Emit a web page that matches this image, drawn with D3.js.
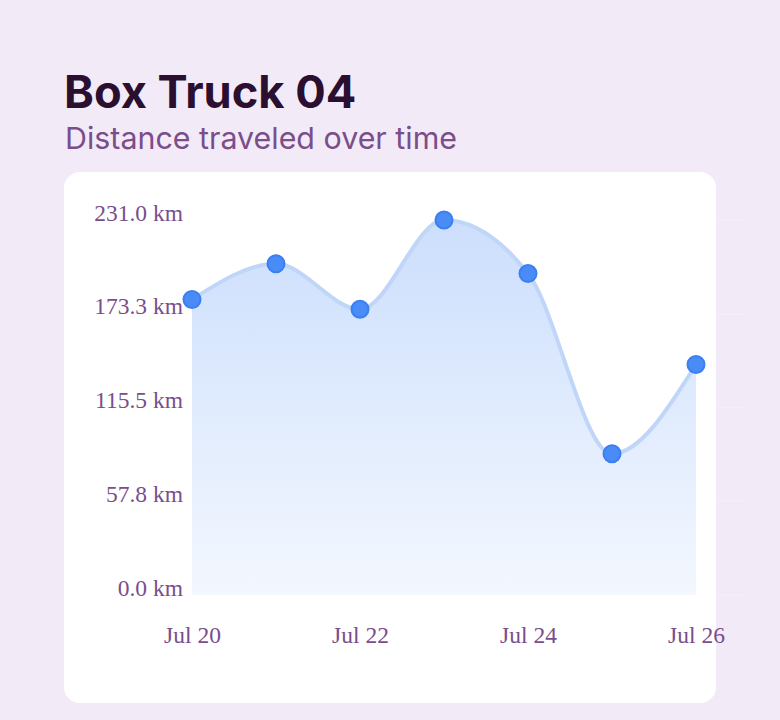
<!DOCTYPE html>
<html>
<head>
<meta charset="utf-8">
<script src="https://cdn.jsdelivr.net/npm/d3@7/dist/d3.min.js"></script>
<style>
  html, body { margin: 0; padding: 0; background: #f3eaf7; }
  svg { display: block; }
</style>
</head>
<body>
<svg id="chart" width="780" height="720"></svg>
<script>
const titleText = "Box Truck 04";
const subtitleText = "Distance traveled over time";
const dates = ["2024-07-20", "2024-07-21", "2024-07-22", "2024-07-23", "2024-07-24", "2024-07-25", "2024-07-26"];
const distances = [182, 204, 176, 231, 198, 87, 142];
const yTickValues = [0, 57.75, 115.5, 173.25, 231];
const xTickDates = ["2024-07-20", "2024-07-22", "2024-07-24", "2024-07-26"];

const parse = d3.timeParse("%Y-%m-%d");
const data = dates.map((d, i) => ({ date: parse(d), value: distances[i] }));

const svg = d3.select("#chart");

const x = d3.scaleTime()
  .domain(d3.extent(data, d => d.date))
  .range([192, 696]);
const y = d3.scaleLinear()
  .domain([0, 231])
  .range([595, 220]);

// faint gridlines (only visible outside the white card)
svg.append("g")
  .selectAll("line")
  .data(yTickValues)
  .join("line")
  .attr("x1", x.range()[0])
  .attr("x2", 748)
  .attr("y1", d => y(d))
  .attr("y2", d => y(d))
  .attr("stroke", "#f6eef6")
  .attr("stroke-width", 1.5);

// card
svg.append("rect")
  .attr("x", 64).attr("y", 172)
  .attr("width", 652).attr("height", 531)
  .attr("rx", 16)
  .attr("fill", "#ffffff");

// titles
svg.append("text")
  .attr("x", 64).attr("y", 108)
  .attr("font-family", "Inter, sans-serif")
  .attr("font-weight", 700)
  .attr("font-size", 45.2)
  .attr("fill", "#2a0f30")
  .text(titleText);

svg.append("text")
  .attr("x", 65).attr("y", 149)
  .attr("font-family", "Inter, sans-serif")
  .attr("font-weight", 400)
  .attr("font-size", 30.4)
  .attr("fill", "#7a4e8b")
  .text(subtitleText);

// gradient
const defs = svg.append("defs");
const grad = defs.append("linearGradient")
  .attr("id", "areaGrad")
  .attr("gradientUnits", "userSpaceOnUse")
  .attr("x1", 0).attr("x2", 0)
  .attr("y1", y(231)).attr("y2", y(0));
grad.append("stop").attr("offset", "0%").attr("stop-color", "#3b82f6").attr("stop-opacity", 0.26);
grad.append("stop").attr("offset", "100%").attr("stop-color", "#3b82f6").attr("stop-opacity", 0.06);

const area = d3.area()
  .x(d => x(d.date))
  .y0(y(0))
  .y1(d => y(d.value))
  .curve(d3.curveMonotoneX);

const line = d3.line()
  .x(d => x(d.date))
  .y(d => y(d.value))
  .curve(d3.curveMonotoneX);

svg.append("path")
  .datum(data)
  .attr("d", area)
  .attr("fill", "url(#areaGrad)");

svg.append("path")
  .datum(data)
  .attr("d", line)
  .attr("fill", "none")
  .attr("stroke", "#c0d6f8")
  .attr("stroke-width", 4);

svg.append("g")
  .selectAll("circle")
  .data(data)
  .join("circle")
  .attr("cx", d => x(d.date))
  .attr("cy", d => y(d.value))
  .attr("r", 8.5)
  .attr("fill", "#4a8cf6")
  .attr("stroke", "#3a7ff3")
  .attr("stroke-width", 2);

// axes
const axisFont = "'Liberation Serif', 'Times New Roman', serif";
const axisColor = "#7a4e8b";

const yAxis = d3.axisLeft(y)
  .tickValues(yTickValues)
  .tickFormat(d => d3.format(".1f")(d) + " km")
  .tickSize(0)
  .tickPadding(9);

const gy = svg.append("g")
  .attr("transform", `translate(${x.range()[0]},0)`)
  .call(yAxis);
gy.select(".domain").remove();
gy.selectAll("text")
  .attr("dy", 0)
  .attr("font-family", axisFont)
  .attr("font-size", 23.5)
  .attr("fill", axisColor);

const xAxis = d3.axisBottom(x)
  .tickValues(xTickDates.map(parse))
  .tickFormat(d3.timeFormat("%b %d"))
  .tickSize(0);

const gx = svg.append("g")
  .attr("transform", `translate(0,${y(0)})`)
  .call(xAxis);
gx.select(".domain").remove();
gx.selectAll("text")
  .attr("y", 48)
  .attr("dy", 0)
  .attr("font-family", axisFont)
  .attr("font-size", 23.5)
  .attr("fill", axisColor);
</script>
</body>
</html>
